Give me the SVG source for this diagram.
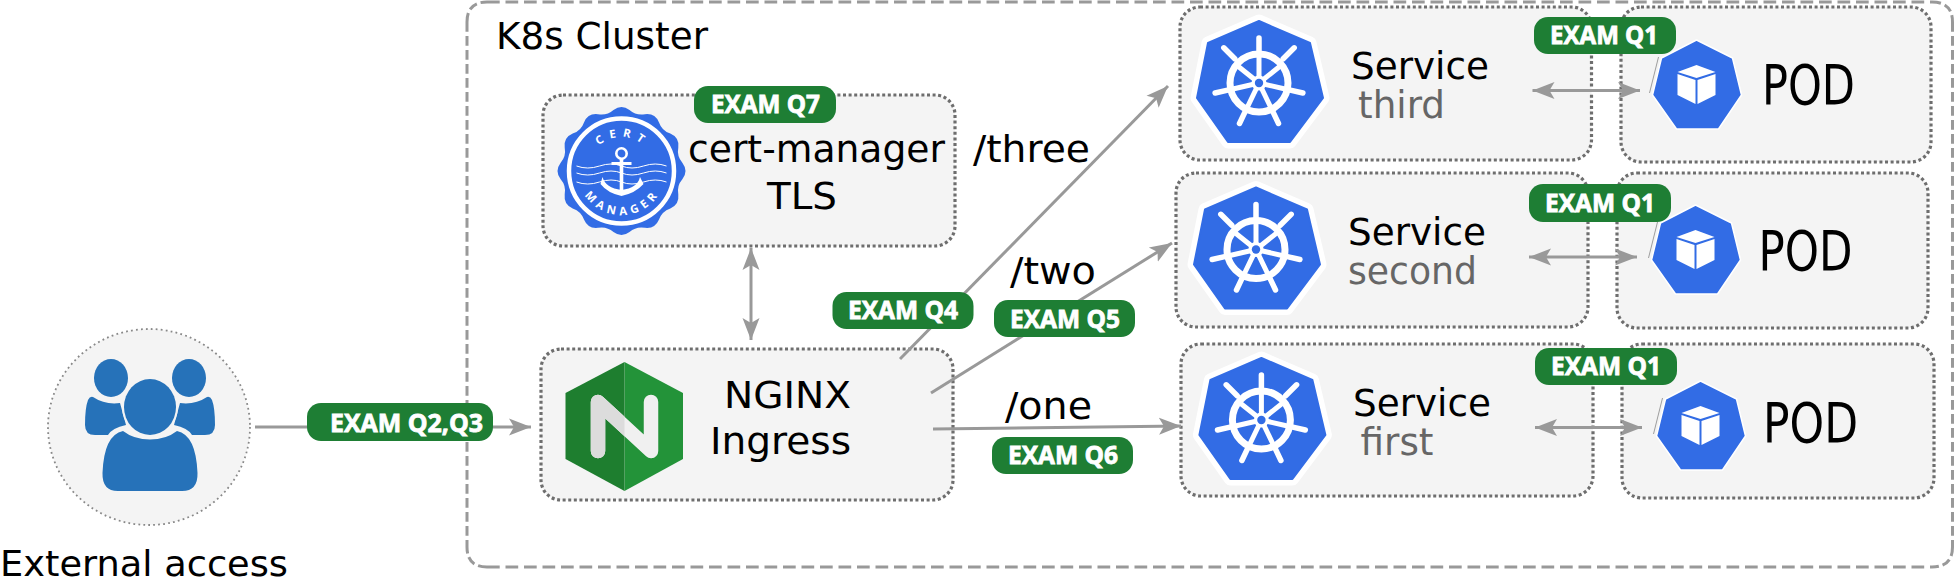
<svg xmlns="http://www.w3.org/2000/svg" xmlns:xlink="http://www.w3.org/1999/xlink" width="1955" height="578" viewBox="0 0 1955 578">
<style>
.box{fill:#f4f4f4;stroke:#6e6e6e;stroke-width:3.2;stroke-dasharray:3 2.6}
.t{font-family:"DejaVu Sans",sans-serif;font-size:37.5px;fill:#000}
.s{font-size:37px}
.g{fill:#666}
.pod{font-size:55px}
.badge rect{fill:#1e7e34}
.badge text{font-family:"Open Sans","DejaVu Sans",sans-serif;font-weight:700;font-size:25px;fill:#fff;stroke:#fff;stroke-width:.8px;text-anchor:middle}
.c{fill:none;stroke:#999;stroke-width:3}
.arrow{marker-end:url(#head)}
.both{marker-start:url(#head);marker-end:url(#head)}
</style>
<defs>
<marker id="head" markerUnits="userSpaceOnUse" markerWidth="24" markerHeight="20" viewBox="0 -10 24 20" refX="22" refY="0" orient="auto-start-reverse"><path d="M0,-8.500 L22,0 L0,8.500 L5,0Z" fill="#999"/></marker>
<symbol id="k8s" overflow="visible">
<path d="M0,-62 L51,-40 L64,15 L31,59 L-31,59 L-62,15 L-51,-40Z" fill="#fff" stroke="#fff" stroke-width="13" stroke-linejoin="round"/>
<path d="M0,-62 L51,-40 L64,15 L31,59 L-31,59 L-62,15 L-51,-40Z" fill="#326ce5" stroke="#326ce5" stroke-width="2" stroke-linejoin="round"/>
<circle r="29" fill="none" stroke="#fff" stroke-width="7"/>
<g stroke="#fff" stroke-linecap="round" fill="none">
<path stroke-width="5.500" d="M0,-31V-45M24.200,-24.200L35.200,-35.200M30.200,6.900L43.900,10M13.500,27.900L19.500,40.500M-13.500,27.900L-19.500,40.500M-30.200,6.900L-43.900,10M-24.200,-24.200L-35.200,-35.200"/>
<path stroke-width="5" stroke-linecap="butt" d="M0,0V-30M0,0L23.500,-18.700M0,0L29.300,6.700M0,0L13,27M0,0L-13,27M0,0L-29.300,6.700M0,0L-23.500,-18.700"/>
</g>
<circle r="7.500" fill="#fff"/><circle r="4.200" fill="#326ce5"/>
</symbol>
<symbol id="podicon" overflow="visible">
<path d="M-38,-28L-47,8" stroke="#888" stroke-width="0.8" fill="none"/>
<path d="M0,-45L36,-27L45,10L22,44L-20,44L-44,10L-35,-27Z" fill="#326ce5" stroke="#fff" stroke-width="1.500" stroke-linejoin="round"/>
<path d="M0,-20L19,-13L0,-7L-19,-13ZM-19,-11L-1,-5V19L-19,10ZM1,-5L19,-11V10L1,19Z" fill="#fff"/>
</symbol>
<clipPath id="nleft"><rect x="565" y="362" width="59.500" height="130"/></clipPath>
</defs>

<g id="cluster" fill="none" stroke="#999" stroke-width="3">
<path d="M487,2H1932M487,567H1932" stroke-dasharray="12.700 5.800"/>
<path d="M467,22V547M1952.500,22V547" stroke-dasharray="9.700 4.300"/>
<path d="M467,22Q467,2 487,2M1932,2Q1952.500,2 1952.500,22M1952.500,547Q1952.500,567 1932,567M487,567Q467,567 467,547" stroke-dasharray="9 4"/>
<text class="t" x="496" y="49" textLength="212" lengthAdjust="spacingAndGlyphs" stroke="none">K8s Cluster</text>
</g>

<g id="external">
<ellipse cx="149" cy="427" rx="101" ry="98" fill="#f4f4f4" stroke="#888" stroke-width="1.800" stroke-dasharray="1.800 3.200"/>
<g fill="#2672b9">
<ellipse cx="111" cy="378" rx="17" ry="19"/><ellipse cx="189" cy="378" rx="17" ry="19"/>
<path d="M93,397Q105,405 120,403L126,425Q112,428 108,435L95,435Q85,435 85,425Q85,408 88,400Q90,396 93,397Z"/>
<path d="M93,397Q105,405 120,403L126,425Q112,428 108,435L95,435Q85,435 85,425Q85,408 88,400Q90,396 93,397Z" transform="matrix(-1 0 0 1 300 0)"/>
<path d="M123,431Q134,439.500 150,439.500Q166,439.500 177,431Q196,435 197.500,473Q198,491 182,491L118,491Q102,491 102.500,473Q104,435 123,431Z" stroke="#f4f4f4" stroke-width="4" paint-order="stroke"/>
<ellipse cx="150" cy="407" rx="26" ry="28" stroke="#f4f4f4" stroke-width="4" paint-order="stroke"/>
</g>
<text class="t" x="0" y="575.500" textLength="288" lengthAdjust="spacingAndGlyphs" style="font-size:36px">External access</text>
</g>

<g id="cert-manager">
<rect class="box" x="543" y="95" width="412" height="151" rx="20"/>
<g transform="translate(621.500,171)">
<path fill="#326ce5" d="M61,8Q55.100,14.800 56.800,23.500Q58,33.500 48.800,37.400Q40.300,40.300 37.400,48.800Q33.500,58 23.500,56.800Q14.800,55.100 8,61Q0,67 -8,61Q-14.800,55.100 -23.500,56.800Q-33.500,58 -37.400,48.800Q-40.300,40.300 -48.800,37.400Q-58,33.500 -56.800,23.500Q-55.100,14.800 -61,8Q-67,0 -61,-8Q-55.100,-14.800 -56.800,-23.500Q-58,-33.500 -48.800,-37.400Q-40.300,-40.300 -37.400,-48.800Q-33.500,-58 -23.500,-56.800Q-14.800,-55.100 -8,-61Q0,-67 8,-61Q14.800,-55.100 23.500,-56.800Q33.500,-58 37.400,-48.800Q40.300,-40.300 48.800,-37.400Q58,-33.500 56.800,-23.500Q55.100,-14.800 61,-8Q67,0 61,8Z"/>
<circle r="52.500" fill="none" stroke="#fff" stroke-width="4.500"/>
<path d="M-45,-5Q-34,-1 -22,-5T0,-5T22,-5T45,-5M-45,2Q-34,6 -22,2T0,2T22,2T45,2M-45,11Q-34,15 -22,11T0,11T22,11T45,11" fill="none" stroke="#fff" stroke-width="1"/>
<circle cy="-17.500" r="5.200" fill="#326ce5" stroke="#fff" stroke-width="2.600"/>
<path d="M-10,-9H-1.800V-12H1.800V-9H10V-6H1.800V20H-1.800V-6H-10Z" fill="#fff"/>
<path d="M-19,6Q-16,17 0,19Q16,17 18.500,6L22,13Q14,22 0,25Q-14,22 -21,13Z" fill="#fff"/>
<path id="arcTop" d="M-34,0A34,34 0 0 1 34,0" fill="none"/>
<path id="arcBot" d="M-44,0A44,44 0 0 0 44,0" fill="none"/>
<text style="font-family:'Open Sans','DejaVu Sans',sans-serif;font-weight:700;font-size:11.500px;letter-spacing:6px;fill:#fff;text-anchor:middle"><textPath xlink:href="#arcTop" href="#arcTop" startOffset="51%">CERT</textPath></text>
<text style="font-family:'Open Sans','DejaVu Sans',sans-serif;font-weight:700;font-size:11.500px;letter-spacing:4.500px;fill:#fff;text-anchor:middle"><textPath xlink:href="#arcBot" href="#arcBot" startOffset="51%">MANAGER</textPath></text>
</g>
<text class="t" x="688" y="162" textLength="257" lengthAdjust="spacingAndGlyphs">cert-manager</text>
<text class="t" x="767" y="208.500" textLength="70" lengthAdjust="spacingAndGlyphs">TLS</text>
</g>

<g id="nginx">
<rect class="box" x="541" y="349" width="412" height="151" rx="20"/>
<path d="M624.500,362L683,393V459L624.500,491Z" fill="#239339"/>
<path d="M624.500,362L565.500,393V459L624.500,491Z" fill="#1e7e2f"/>
<path d="M598,451V402L651,451V402" fill="none" stroke="#f0f0f0" stroke-width="14.500" stroke-linecap="round" stroke-linejoin="round"/>
<path d="M598,451V402L651,451V402" fill="none" stroke="#dcdcdc" stroke-width="14.500" stroke-linecap="round" stroke-linejoin="round" clip-path="url(#nleft)"/>
<text class="t" x="724" y="407.500" textLength="127" lengthAdjust="spacingAndGlyphs">NGINX</text>
<text class="t" x="710" y="453.500" textLength="141" lengthAdjust="spacingAndGlyphs">Ingress</text>
</g>

<g id="service-third">
<rect class="box" x="1180" y="7" width="411.500" height="153" rx="20"/>
<use href="#k8s" x="1259" y="83"/>
<text class="t s" x="1351" y="78.500" textLength="138" lengthAdjust="spacingAndGlyphs">Service</text>
<text class="t s g" x="1358" y="117.500" textLength="87" lengthAdjust="spacingAndGlyphs">third</text>
</g>
<g id="pod-third">
<rect class="box" x="1621" y="7" width="310" height="155" rx="20"/>
<use href="#podicon" x="1696.500" y="85"/>
<text class="t pod" x="1762" y="103.500" textLength="93" lengthAdjust="spacingAndGlyphs">POD</text>
</g>

<g id="service-second">
<rect class="box" x="1176" y="173" width="412" height="154" rx="20"/>
<use href="#k8s" x="1256" y="249.500"/>
<text class="t s" x="1348" y="244.500" textLength="138" lengthAdjust="spacingAndGlyphs">Service</text>
<text class="t s g" x="1348" y="283.500" textLength="129" lengthAdjust="spacingAndGlyphs">second</text>
</g>
<g id="pod-second">
<rect class="box" x="1617" y="173" width="311" height="155" rx="20"/>
<use href="#podicon" x="1695.500" y="250"/>
<text class="t pod" x="1758.500" y="269.500" textLength="94" lengthAdjust="spacingAndGlyphs">POD</text>
</g>

<g id="service-first">
<rect class="box" x="1181" y="344" width="412" height="152" rx="20"/>
<use href="#k8s" x="1261.400" y="420"/>
<text class="t s" x="1353" y="415.500" textLength="138" lengthAdjust="spacingAndGlyphs">Service</text>
<text class="t s g" x="1360.500" y="454.500" textLength="73" lengthAdjust="spacingAndGlyphs">first</text>
</g>
<g id="pod-first">
<rect class="box" x="1622" y="344" width="312" height="154" rx="20"/>
<use href="#podicon" x="1700.500" y="426"/>
<text class="t pod" x="1763" y="441.500" textLength="95" lengthAdjust="spacingAndGlyphs">POD</text>
</g>

<g id="connectors">
<path class="c arrow" d="M255,427H531"/>
<path class="c both" d="M751,248V340"/>
<path class="c arrow" d="M900,359L1168,86"/>
<path class="c arrow" d="M931,393L1172,243"/>
<path class="c arrow" d="M933,429L1181,426"/>
<path class="c both" d="M1532.500,90.500H1640"/>
<path class="c both" d="M1529,257H1637"/>
<path class="c both" d="M1535,427.500H1642"/>
</g>

<g id="route-labels">
<text class="t" x="973" y="161.500" textLength="117" lengthAdjust="spacingAndGlyphs">/three</text>
<text class="t" x="1010" y="283.500" textLength="86" lengthAdjust="spacingAndGlyphs">/two</text>
<text class="t" x="1005" y="418.500" textLength="87" lengthAdjust="spacingAndGlyphs">/one</text>
</g>

<g id="badge-q23" class="badge"><rect x="307" y="403" width="186" height="38" rx="14"/><text x="406.500" y="432" textLength="153" lengthAdjust="spacingAndGlyphs">EXAM Q2,Q3</text></g>
<g id="badge-q7" class="badge"><rect x="694" y="86" width="142" height="37" rx="14"/><text x="765.500" y="113" textLength="109" lengthAdjust="spacingAndGlyphs">EXAM Q7</text></g>
<g id="badge-q4" class="badge"><rect x="832.500" y="292" width="141" height="37" rx="14"/><text x="903" y="319" textLength="110" lengthAdjust="spacingAndGlyphs">EXAM Q4</text></g>
<g id="badge-q5" class="badge"><rect x="994" y="300" width="141" height="37" rx="14"/><text x="1065" y="328" textLength="110" lengthAdjust="spacingAndGlyphs">EXAM Q5</text></g>
<g id="badge-q6" class="badge"><rect x="992" y="437" width="141" height="37" rx="14"/><text x="1063" y="464" textLength="110" lengthAdjust="spacingAndGlyphs">EXAM Q6</text></g>
<g id="badge-q1-third" class="badge"><rect x="1534" y="17" width="142" height="37" rx="14"/><text x="1604" y="44" textLength="108" lengthAdjust="spacingAndGlyphs">EXAM Q1</text></g>
<g id="badge-q1-second" class="badge"><rect x="1529" y="184" width="142" height="38" rx="14"/><text x="1600" y="212" textLength="110" lengthAdjust="spacingAndGlyphs">EXAM Q1</text></g>
<g id="badge-q1-first" class="badge"><rect x="1535" y="348" width="142" height="37" rx="14"/><text x="1606" y="375" textLength="110" lengthAdjust="spacingAndGlyphs">EXAM Q1</text></g>
</svg>
